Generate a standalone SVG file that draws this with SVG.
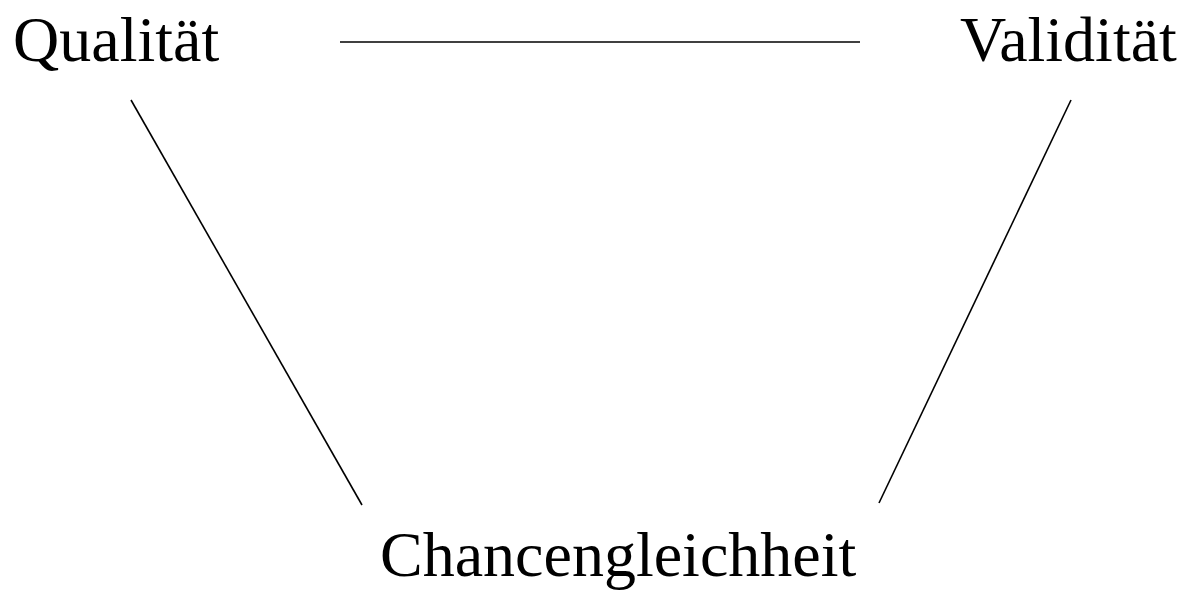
<svg xmlns="http://www.w3.org/2000/svg" width="1193" height="592" viewBox="0 0 1193 592">
<style>
text{font-family:"Liberation Serif","Times New Roman",serif;font-size:64px;fill:#000}
.c{stroke:#000;stroke-width:1.6;fill:none}
</style>
<rect width="1193" height="592" fill="#fff"/>
<g id="connectors">
<line class="c" x1="340" y1="42" x2="860" y2="42"/>
<line class="c" x1="131" y1="100" x2="362" y2="505"/>
<line class="c" x1="1071" y1="100" x2="879" y2="503"/>
</g>
<g id="qualitaet"><text x="13" y="61">Qualität</text></g>
<g id="validitaet"><text x="960" y="61">Validität</text></g>
<g id="chancengleichheit"><text x="380" y="576">Chancengleichheit</text></g>
</svg>
